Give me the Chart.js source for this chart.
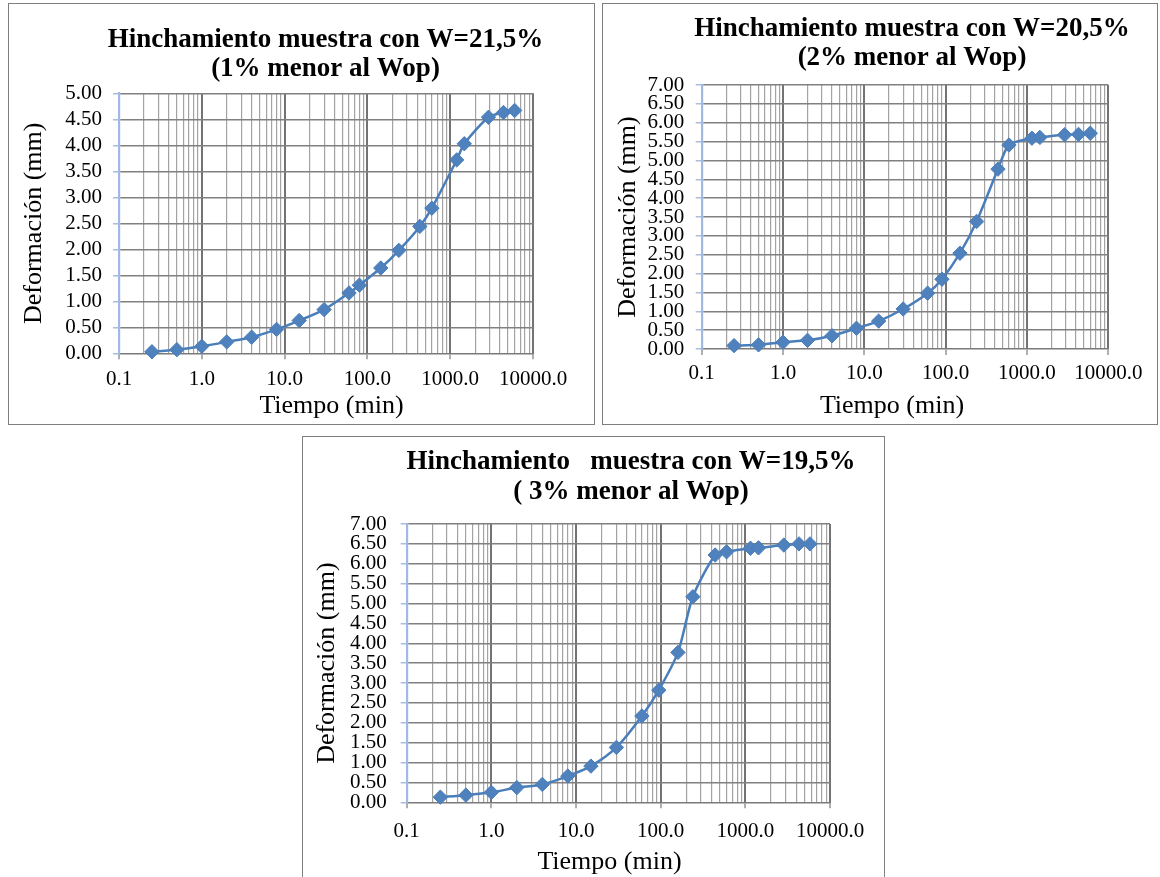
<!DOCTYPE html>
<html>
<head>
<meta charset="utf-8">
<script src="https://cdn.jsdelivr.net/npm/chart.js@4.4.1/dist/chart.umd.min.js"></script>
<style>
  html, body { margin: 0; padding: 0; background: #fff; overflow: hidden; }
  body { width: 1160px; height: 877px; position: relative; }
  .box { position: absolute; box-sizing: border-box; border: 1px solid #7f7f7f; background: #fff; }
  .box canvas { position: absolute; left: 0; top: 0; }
</style>
</head>
<body>
<div class="box" id="b1" style="left:8px; top:3px; width:587px; height:422px;"><canvas id="c1"></canvas></div>
<div class="box" id="b2" style="left:602px; top:3px; width:556px; height:422px;"><canvas id="c2"></canvas></div>
<div class="box" id="b3" style="left:302px; top:436px; width:583px; height:446px;"><canvas id="c3"></canvas></div>
<script>
// ---------------- DATA ----------------
const xDecades = [0.1, 1, 10, 100, 1000, 10000];

const time1 = [0.25, 0.5, 1, 2, 4, 8, 15, 30, 60, 80, 145, 240, 430, 600, 1200, 1480, 2900, 4400, 6000];
const def1  = [0.03, 0.07, 0.135, 0.22, 0.31, 0.46, 0.63, 0.84, 1.16, 1.31, 1.64, 1.98, 2.44, 2.79, 3.72, 4.03, 4.54, 4.63, 4.67];

const time2 = [0.25, 0.5, 1, 2, 4, 8, 15, 30, 60, 90, 150, 240, 440, 600, 1150, 1440, 2900, 4300, 6000];
const def2  = [0.09, 0.11, 0.18, 0.23, 0.35, 0.55, 0.74, 1.06, 1.48, 1.85, 2.54, 3.38, 4.77, 5.41, 5.59, 5.61, 5.68, 5.69, 5.72];

const time3 = [0.25, 0.5, 1, 2, 4, 8, 15, 30, 60, 95, 160, 240, 440, 600, 1150, 1430, 2850, 4300, 5800];
const def3  = [0.13, 0.18, 0.25, 0.37, 0.45, 0.66, 0.91, 1.38, 2.17, 2.82, 3.77, 5.17, 6.22, 6.30, 6.39, 6.40, 6.47, 6.50, 6.50];

const title1 = ['Hinchamiento muestra con W=21,5%', '(1% menor al Wop)'];
const title2 = ['Hinchamiento muestra con W=20,5%', '(2% menor al Wop)'];
const title3 = ['Hinchamiento   muestra con W=19,5%', '( 3% menor al Wop)'];
const xTitle = 'Tiempo (min)';
const yTitle = 'Deformación (mm)';
const yMax1 = 5, yMax2 = 7, yMax3 = 7;
const yStep = 0.5;

// ---------------- HELPERS ----------------
const FONT = "'Liberation Serif', 'Times New Roman', serif";

// log gridline positions: decades and their 2..9 multiples
const xGridValues = [];
xDecades.forEach((d, i) => {
  xGridValues.push(d);
  if (i < xDecades.length - 1) {
    for (let k = 2; k <= 9; k++) xGridValues.push(+(k * d).toPrecision(6));
  }
});
function isDecade(v) {
  const l = Math.log10(v);
  return Math.abs(l - Math.round(l)) < 1e-6;
}

const textLayer = {
  id: 'textLayer',
  afterDraw(chart, args, opts) {
    const ctx = chart.ctx;
    ctx.save();
    ctx.fillStyle = '#000';
    ctx.textAlign = 'center';
    ctx.textBaseline = 'alphabetic';
    (opts.items || []).forEach(it => {
      ctx.font = it.font;
      it.lines.forEach((t, i) => ctx.fillText(t, it.x, it.y + i * (it.lh || 0)));
    });
    ctx.restore();
  }
};

function makeChart(id, times, defs, titleLines, L) {
  const canvas = document.getElementById(id);
  canvas.width = L.w; canvas.height = L.h;
  canvas.style.width = L.w + 'px'; canvas.style.height = L.h + 'px';
  const pts = times.map((t, i) => ({ x: t, y: defs[i] }));
  return new Chart(canvas, {
    type: 'line',
    data: {
      datasets: [{
        data: pts,
        borderColor: '#4a7ebb',
        borderWidth: 2.5,
        backgroundColor: '#4f81bd',
        pointStyle: 'rectRot',
        pointRadius: 7.2,
        pointBackgroundColor: '#4f81bd',
        pointBorderColor: '#4a7ebb',
        pointBorderWidth: 1,
        tension: 0.25,
        fill: false,
        clip: false
      }]
    },
    plugins: [textLayer],
    options: {
      responsive: false,
      animation: false,
      devicePixelRatio: 1,
      layout: { padding: { left: 0, top: L.plotTop, right: L.w - L.plotRight, bottom: 0 } },
      plugins: {
        legend: { display: false },
        tooltip: { enabled: false },
        title: { display: false },
        textLayer: {
          items: [
            { lines: titleLines, x: L.titleX, y: L.titleY, lh: L.titleLH, font: "bold 27px " + FONT },
            { lines: [xTitle], x: L.xTitleX, y: L.xTitleY, font: "26px " + FONT }
          ]
        }
      },
      scales: {
        x: {
          type: 'logarithmic',
          min: 0.1,
          max: 10000,
          afterBuildTicks: s => { s.ticks = xGridValues.map(v => ({ value: v })); },
          afterFit: s => { s.height = L.h - L.plotBottom; },
          ticks: {
            autoSkip: false, maxRotation: 0, minRotation: 0,
            padding: L.xPad,
            color: '#000',
            font: { family: FONT, size: 21 },
            callback: v => isDecade(v) ? Number(v).toFixed(1) : ''
          },
          grid: {
            color: c => {
              const v = c.tick ? c.tick.value : 1;
              if (Math.abs(v - 0.1) < 1e-9) return 'rgba(0,0,0,0)';
              return isDecade(v) ? '#737373' : '#a3a3a3';
            },
            lineWidth: c => (c.tick && isDecade(c.tick.value)) ? 2 : 1.2,
            tickLength: 6,
            tickWidth: 1.2,
            tickColor: c => (c.tick && isDecade(c.tick.value)) ? '#7a7a7a' : 'rgba(0,0,0,0)'
          },
          border: { display: true, color: '#7a7a7a', width: 1.5 },
          title: { display: false }
        },
        y: {
          type: 'linear',
          min: 0,
          max: L.yMax,
          afterFit: s => { s.width = L.plotLeft; },
          ticks: {
            stepSize: yStep,
            autoSkip: false,
            padding: L.yPad,
            color: '#000',
            font: { family: FONT, size: 21 },
            callback: v => Number(v).toFixed(2)
          },
          grid: {
            color: c => (c.tick && c.tick.value === 0) ? 'rgba(0,0,0,0)' : '#808080',
            lineWidth: 1.5,
            tickLength: 6,
            tickColor: '#a9bde0'
          },
          border: { display: true, color: '#9fb9e3', width: 2.2 },
          title: {
            display: true,
            text: yTitle,
            color: '#000',
            font: { family: FONT, size: 26 },
            padding: { top: L.yTitlePad, bottom: 0 }
          }
        }
      }
    }
  });
}

makeChart('c1', time1, def1, title1, {
  w: 585, h: 420, plotLeft: 110, plotRight: 524, plotTop: 89.3, plotBottom: 349.3,
  titleX: 316.5, titleY: 43, titleLH: 29, xTitleX: 322.5, xTitleY: 409,
  xPad: 7.6, yPad: 11, yTitlePad: 9.9, yMax: yMax1
});
makeChart('c2', time2, def2, title2, {
  w: 554, h: 420, plotLeft: 98.7, plotRight: 505.3, plotTop: 81, plotBottom: 345,
  titleX: 309, titleY: 32, titleLH: 29, xTitleX: 289, xTitleY: 408.7,
  xPad: 6, yPad: 11.4, yTitlePad: 9.4, yMax: yMax2
});
makeChart('c3', time3, def3, title3, {
  w: 581, h: 440, plotLeft: 103.7, plotRight: 527, plotTop: 87, plotBottom: 365.3,
  titleX: 328, titleY: 32, titleLH: 30, xTitleX: 306.5, xTitleY: 432,
  xPad: 10.7, yPad: 14, yTitlePad: 8.9, yMax: yMax3
});
</script>
</body>
</html>
